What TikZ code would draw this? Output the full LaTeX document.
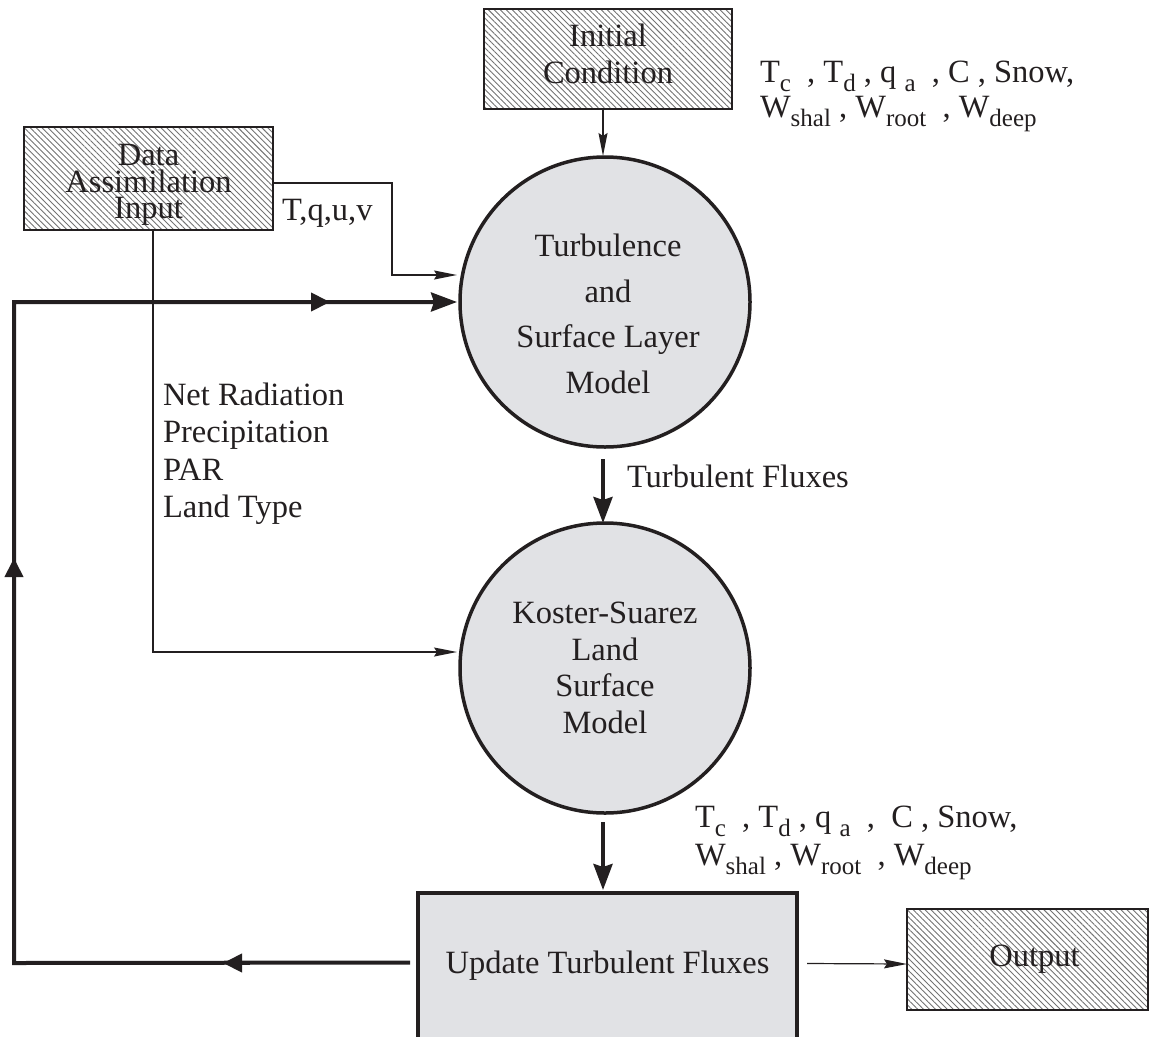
\documentclass[tikz,border=0pt]{standalone}
\usepackage{fontspec}
\setmainfont{Liberation Serif}
\usetikzlibrary{arrows.meta,patterns.meta,calc}
\definecolor{fillgray}{RGB}{225,226,229}
\definecolor{ink}{RGB}{35,31,32}
\newcommand{\lsub}[1]{\raisebox{-9pt}{\fontsize{25}{25}\selectfont #1}}
\begin{document}
\begin{tikzpicture}[x=1pt,y=-1pt,
  every node/.style={inner sep=0pt, outer sep=0pt, text=ink},
  txt/.style={font=\fontsize{32.5}{37}\selectfont},
  hatchbox/.style={draw=ink, line width=1.8pt,
    pattern={Lines[angle=-45,distance=4.2pt,line width=0.9pt]}, pattern color=black!55,
    align=center},
  modelcircle/.style={circle, draw=ink, line width=3.5pt, fill=fillgray,
    minimum size=290pt, align=center},
  thinline/.style={draw=ink, line width=1.2pt},
  thinarrow/.style={thinline, -{Stealth[length=23pt,width=9pt,inset=3pt]}},
  thickline/.style={draw=ink, line width=4pt},
  thickarrow/.style={thickline, -{Stealth[length=26pt,width=19pt,inset=3pt]}},
  midarrow/.style={thickline, -{Triangle[length=19pt,width=18pt]}}
]
\useasboundingbox (0,0) rectangle (1150,1036);

% boxes
\node[hatchbox, minimum width=248pt, minimum height=100pt,
  font=\fontsize{32.5}{37}\selectfont] (ic) at (608,59) {Initial\\Condition\rule[-10pt]{0pt}{0pt}};
\node[hatchbox, minimum width=249pt, minimum height=103pt,
  font=\fontsize{32.5}{26.5}\selectfont] (da) at (148.5,178.5) {\rule{0pt}{34pt}Data\\Assimilation\\Input};
\node[hatchbox, minimum width=241pt, minimum height=101pt, txt] (ob) at (1027.5,959.5) {\hspace*{14pt}Output};

% circles
\node[modelcircle, font=\fontsize{32.5}{45.5}\selectfont] (c1) at (605,302)
  {\rule{0pt}{46pt}\hspace*{6pt}Turbulence\\\hspace*{6pt}and\\\hspace*{6pt}Surface Layer\\\hspace*{6pt}Model};
\node[modelcircle, font=\fontsize{32.5}{36.7}\selectfont] (c2) at (605,668)
  {Koster-Suarez\\Land\\Surface\\Model};

% update box
\node[draw=ink, line width=3.5pt, fill=fillgray, anchor=north,
  minimum width=379pt, text height=80pt, text depth=80pt, txt] (bt) at (607.5,893)
  {Update Turbulent Fluxes};

% labels
\node[txt, anchor=base west] (ltq) at (282,220) {T,q,u,v};
\node[txt, anchor=base west] (ltf) at (627,487) {Turbulent Fluxes};
\node[txt, anchor=north west, align=left, font=\fontsize{32.5}{37.4}\selectfont] (lnr) at (163,383)
  {Net Radiation\\Precipitation\\PAR\\Land Type};
\node[txt, anchor=north west, align=left, font=\fontsize{32.5}{35}\selectfont] (lic) at (760,61)
  {T\lsub{c}\ \ , T\lsub{d} , q\ \lsub{a}\ \ , C , Snow,\\
   W\lsub{shal} , W\lsub{root}\ \ , W\lsub{deep}};
\node[txt, anchor=north west, align=left, font=\fontsize{32.5}{38}\selectfont] (lks) at (695,806)
  {T\lsub{c}\ \ , T\lsub{d} , q\ \lsub{a}\ \ ,\ \ C , Snow,\\
   W\lsub{shal} , W\lsub{root}\ \ , W\lsub{deep}};

% thin connectors
\draw[thinarrow] ($(ic.south)+(-5,0)$) -- ($(c1.north)+(-2,-1)$);
\draw[thinarrow, shorten >=3pt] ($(da.east)+(0,4.5)$) -| (392,275) -- ($(c1.west)+(0,-27)$);
\draw[thinarrow, shorten >=3pt] ($(da.south)+(4.5,0)$) |- ($(c2.west)+(0,-16)$);
\draw[thinarrow] ($(bt.east)+(10,-9.5)$) -- ($(ob.west)+(0,4.5)$);

% thick connectors
\draw[thickarrow] ($(c1.south)+(-2,12)$) -- ($(c2.north)+(-2,0)$);
\draw[thickarrow] ($(c2.south)+(-2,9)$) -- ($(bt.north)+(-4.5,-3)$);

% feedback loop
\draw[thickline, line join=miter] ($(bt.west)+(-8,-10.5)$) coordinate (ls) -- (14,963) coordinate (lc1)
  -- (14,302) coordinate (lc2) -- ($(c1.west)+(-20,0)$);
\draw[thickarrow, shorten >=3pt] (lc2) -- (c1.west);
\draw[midarrow] (250,963) -- (223,963);
\draw[midarrow] (14,585) -- (14,558);
\draw[midarrow] (300,302) -- (330,302);
\end{tikzpicture}
\end{document}
